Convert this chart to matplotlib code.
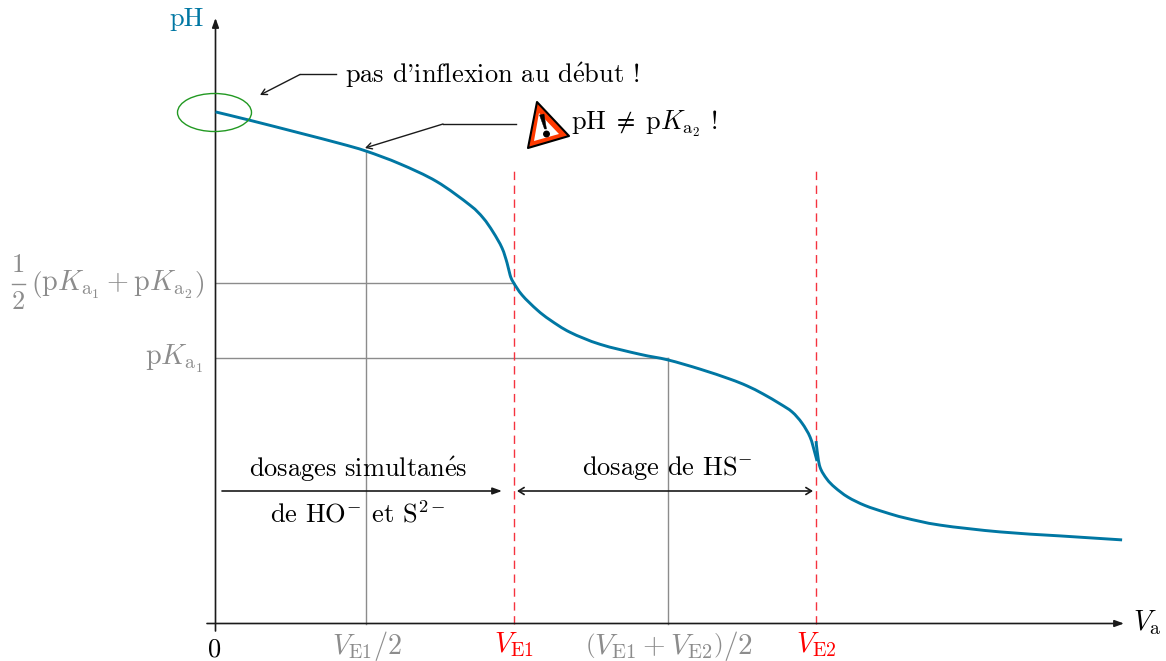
import numpy as np
import matplotlib
matplotlib.use('Agg')
import matplotlib.pyplot as plt
from matplotlib.patches import Ellipse, Polygon, PathPatch
from matplotlib.path import Path

plt.rcParams['font.family'] = ['cmr10', 'DejaVu Sans']
plt.rcParams['mathtext.fontset'] = 'cm'
plt.rcParams['axes.unicode_minus'] = False

# volume / pH (1 unit = 30 px in x, 40 px in y)
V_left = [0, 1.15, 2.82, 4.15, 5.02, 6.15, 7.37, 8.48, 8.92, 9.25, 9.55, 9.72, 9.82, 9.92, 10.22, 10.72, 11.15, 11.82, 12.82, 14.15, 15.08, 16.15, 17.15, 17.72, 18.25, 18.82, 19.22, 19.55, 19.82, 19.98, 20.05]
pH_left = [12.79, 12.58, 12.26, 12.0, 11.81, 11.49, 11.05, 10.46, 10.14, 9.79, 9.39, 9.01, 8.71, 8.54, 8.21, 7.84, 7.59, 7.28, 6.98, 6.73, 6.59, 6.36, 6.11, 5.94, 5.74, 5.49, 5.29, 5.01, 4.66, 4.26, 4.06]
V_right = [20.02, 20.05, 20.15, 20.38, 20.65, 21.08, 21.65, 22.32, 22.98, 24.15, 26.15, 28.15, 30.22]
pH_right = [4.56, 4.34, 3.91, 3.61, 3.40, 3.16, 2.95, 2.78, 2.64, 2.46, 2.29, 2.19, 2.09]

VE1 = 9.95
VE2 = 20.03
V_half1 = 5.03
V_half2 = 15.08
pKa1 = 6.64
pH_mid = 8.51

fig = plt.figure(figsize=(11.66, 6.61), dpi=100)
ax = fig.add_axes([0, 0, 1, 1])
ax.set_xlim(-215.5 / 30, (1166 - 215.5) / 30)
ax.set_ylim(-(661 - 623.5) / 40, 623.5 / 40)
ax.axis('off')


def px(x, y):
    return (x - 215.5) / 30, (623.5 - y) / 40


def smooth(xs, ys):
    # courbe de Bezier passant par les points lus
    p = np.column_stack([xs, ys])
    verts = [p[0]]
    codes = [Path.MOVETO]
    for i in range(len(p) - 1):
        p0 = p[max(i - 1, 0)]
        p3 = p[min(i + 2, len(p) - 1)]
        verts += [p[i] + (p[i + 1] - p0) / 6, p[i + 1] - (p3 - p[i]) / 6, p[i + 1]]
        codes += [Path.CURVE4] * 3
    return Path(verts, codes)


black = '#1a1a1a'
grey = '#8c8c8c'
blue = '#0077a3'
red = '#f5333f'

# guides
for v, top in [(V_half1, 11.81), (V_half2, pKa1)]:
    ax.plot([v, v], [0, top], color=grey, lw=1.0, zorder=1)
for y, right in [(pH_mid, VE1), (pKa1, V_half2)]:
    ax.plot([0, right], [y, y], color=grey, lw=1.0, zorder=1)
for v in (VE1, VE2):
    ax.plot([v, v], [0, 11.385], color=red, lw=1.0, dashes=(6, 4), zorder=2)

# axes
head = dict(arrowstyle='-|>,head_length=0.55,head_width=0.2', color=black, lw=1.2, shrinkA=0, shrinkB=0)
ax.annotate('', xy=px(1124, 623.5), xytext=px(207, 623.5), arrowprops=head)
ax.annotate('', xy=px(215.5, 18), xytext=px(215.5, 631), arrowprops=head)

# curve
for xs, ys in [(V_left, pH_left), (V_right, pH_right)]:
    ax.add_patch(PathPatch(smooth(xs, ys), fill=False, ec=blue, lw=2.1, capstyle='butt', zorder=3))

# green ellipse
ax.add_patch(Ellipse(px(214.5, 112.5), 74 / 30, 38 / 40, fill=False, ec='#229922', lw=1.0, zorder=4))

# callouts
thin = dict(arrowstyle='->,head_length=0.4,head_width=0.22', color=black, lw=1.0, shrinkA=0, shrinkB=0)
ax.plot(*zip(px(336, 74.5), px(300, 74.5)), color=black, lw=1.0)
ax.annotate('', xy=px(260, 95), xytext=px(300, 74.5), arrowprops=thin)
ax.plot(*zip(px(516, 124), px(443, 124)), color=black, lw=1.0)
ax.annotate('', xy=px(365, 148), xytext=px(443, 124), arrowprops=thin)

# warning sign
tri = [px(537, 102), px(569, 136), px(528, 148)]
ax.add_patch(Polygon(tri, closed=True, fc='#ff3a00', ec='black', lw=1.5, joinstyle='round', zorder=5))
inner = [px(539, 113), px(559, 134), px(534, 141)]
ax.add_patch(Polygon(inner, closed=True, fc='white', ec='none', zorder=6))
ax.add_patch(Polygon([px(539.5, 115), px(544, 114), px(546.5, 129), px(544.5, 129)], closed=True, fc='black', ec='black', lw=0.3, zorder=7))
ax.add_patch(Ellipse(px(546.5, 134), 5.5 / 30, 5.5 / 40, fc='black', ec='black', zorder=7))

# dosing arrows
ax.annotate('', xy=px(502, 491), xytext=px(222, 491), arrowprops=head)
ax.annotate('', xy=px(813, 491), xytext=px(517, 491),
            arrowprops=dict(arrowstyle='<->,head_length=0.4,head_width=0.25', color=black, lw=1.2, shrinkA=0, shrinkB=0))


def label(x, y, s, color='black', size=19, ha='center', va='center'):
    xx, yy = px(x, y)
    ax.text(xx, yy, s, color=color, fontsize=size, ha=ha, va=va, zorder=8)


label(345, 75, r"pas d'inflexion au d$\acute{\mathrm{e}}$but !", ha='left')
label(571, 124, r'pH$\;\neq\;$p$K_{\mathrm{a}_2}$ !', ha='left')
label(187, 19, 'pH', color=blue)
label(1133, 623, r'$V_{\mathrm{a}}$', ha='left', size=20.3)
label(215, 650, '0')
label(358, 469, r'dosages simultan$\acute{\mathrm{e}}$s')
label(358, 514, r'de HO$^{-}$ et S$^{2-}$')
label(667, 468, r'dosage de HS$^{-}$')
label(367, 646, r'$V_{\mathrm{E1}}/2$', color=grey, size=20.3)
label(514, 645, r'$V_{\mathrm{E1}}$', color='#ff0000', size=20.3)
label(669, 646, r'$\left(V_{\mathrm{E1}}+V_{\mathrm{E2}}\right)/2$', color=grey, size=21)
label(816, 645, r'$V_{\mathrm{E2}}$', color='#ff0000', size=20.3)
label(18.5, 265, '1', color=grey)
label(18.5, 302, '2', color=grey)
ax.plot(*zip(px(12, 284), px(25, 284)), color=grey, lw=1.0)
label(204, 285, r'$\left(\mathrm{p}K_{\mathrm{a}_1}+\mathrm{p}K_{\mathrm{a}_2}\right)$', color=grey, ha='right', size=20.3)
label(203, 359, r'$\mathrm{p}K_{\mathrm{a}_1}$', color=grey, ha='right', size=20.3)

fig.savefig('out.png', dpi=100)
